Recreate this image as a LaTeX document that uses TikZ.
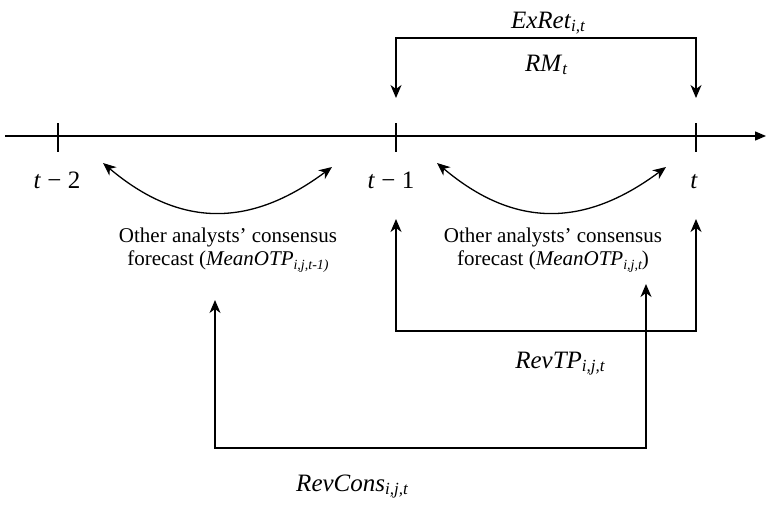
\documentclass[tikz,border=0pt]{standalone}
\usepackage{fontspec}
\setmainfont{Liberation Serif}
\usetikzlibrary{arrows.meta}
\newcommand\mysub[1]{\raisebox{-0.35ex}{\fontsize{14}{14}\selectfont\itshape #1}}
\newcommand\bigsub[1]{\raisebox{-0.3ex}{\fontsize{17}{17}\selectfont\itshape #1}}
\begin{document}
\begin{tikzpicture}[x=1pt,y=-1pt,
  lbl/.style={font=\fontsize{21}{23.5}\selectfont, inner sep=0pt},
  big/.style={font=\fontsize{25}{28}\selectfont, inner sep=0pt},
  ln/.style={line width=1.3pt},
  tip/.style={ln, {Stealth[length=13pt,width=11pt,inset=4pt]}-{Stealth[length=13pt,width=11pt,inset=4pt]}},
  axisln/.style={ln, -{Triangle[length=11pt,width=9pt]}}]
\useasboundingbox (0,0) rectangle (766,504);
% axis
\coordinate (axL) at (5,136);
\coordinate (axR) at (766,136);
\draw[axisln] (axL) -- (axR);
\coordinate (t2) at (58,136);
\coordinate (t1) at (396,136);
\coordinate (t0) at (696,136);
\foreach \c in {t2,t1,t0}{\draw[ln] ([yshift=13pt]\c) -- ([yshift=-16pt]\c);}
\node[big, anchor=base] (lt2) at (57,188) {\textit{t} − 2};
\node[big, anchor=base] (lt1) at (391,188) {\textit{t} − 1};
\node[big, anchor=base] (lt0) at (694,188) {\textit{t}};
% curved two-headed arrows
\coordinate (c1a) at (103,163);
\coordinate (c1b) at (332,167);
\draw[tip] (c1a) .. controls (180,228) and (250,228) .. (c1b);
\coordinate (c2a) at (437,163);
\coordinate (c2b) at (666,167);
\draw[tip] (c2a) .. controls (514,228) and (584,228) .. (c2b);
% ExRet bracket
\coordinate (exLe) at (396,98);
\coordinate (exL) at (396,38);
\coordinate (exR) at (696,38);
\coordinate (exRe) at (696,98);
\draw[tip] (exLe) -- (exL) -- (exR) -- (exRe);
\node[big, anchor=base] (exret) at (548,28) {\textit{ExRet}\bigsub{i,t}};
\node[big, anchor=base] (rm) at (546,71) {\textit{RM}\bigsub{t}};
% text blocks
\node[lbl, align=center] (oc1) at (228,250) {Other analysts’ consensus\\forecast (\textit{MeanOTP}\mysub{i,j,t-1)}};
\node[lbl, align=center] (oc2) at (553,250) {Other analysts’ consensus\\forecast (\textit{MeanOTP}\mysub{i,j,t})};
% RevTP bracket
\coordinate (rtLe) at (396,219);
\coordinate (rtL) at (396,331);
\coordinate (rtR) at (696,331);
\coordinate (rtRe) at (696,219);
\draw[tip] (rtLe) -- (rtL) -- (rtR) -- (rtRe);
\node[big, anchor=base] (revtp) at (560,368) {\textit{RevTP}\bigsub{i,j,t}};
% RevCons bracket
\coordinate (rcLe) at (215,300);
\coordinate (rcL) at (215,448);
\coordinate (rcR) at (646,448);
\coordinate (rcRe) at (646,284);
\draw[tip] (rcLe) -- (rcL) -- (rcR) -- (rcRe);
\node[big, anchor=base] (revcons) at (352,491) {\textit{RevCons}\bigsub{i,j,t}};
\end{tikzpicture}
\end{document}
